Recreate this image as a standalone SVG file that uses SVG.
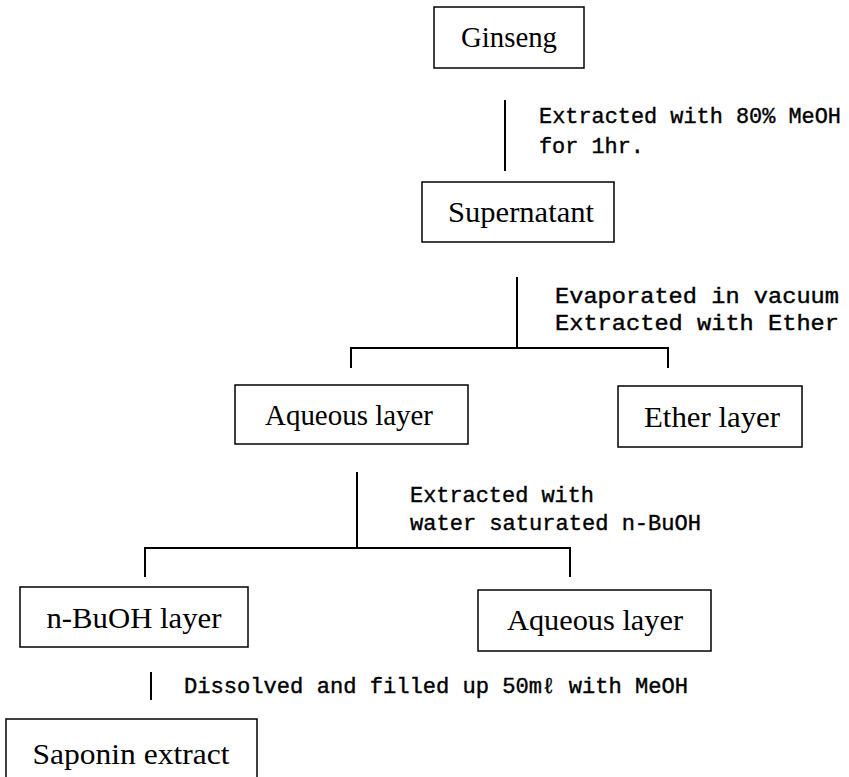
<svg xmlns="http://www.w3.org/2000/svg" width="849" height="777" viewBox="0 0 849 777">
<style>
.box{fill:#fff;stroke:#000;stroke-width:1.5}
.nt{font-family:"Liberation Serif","Times New Roman",serif;font-size:30px;fill:#000;text-anchor:middle}
.ln{fill:none;stroke:#000;stroke-width:2}
.lb{font-family:"Liberation Mono","Courier New",monospace;font-size:22px;fill:#000;stroke:#000;stroke-width:0.4}
</style>
<rect width="849" height="777" fill="#fff"/>
<g id="connectors">
<path class="ln" d="M505 100V171"/>
<path class="ln" d="M517 277V348"/>
<path class="ln" d="M351 368V348H668V368"/>
<path class="ln" d="M357 472V548"/>
<path class="ln" d="M145 577V548H570V577"/>
<path class="ln" d="M151 672V700"/>
</g>
<g id="labels">
<text class="lb" x="539" y="123" textLength="302" lengthAdjust="spacingAndGlyphs">Extracted with 80% MeOH</text>
<text class="lb" x="539" y="153" textLength="105" lengthAdjust="spacingAndGlyphs">for 1hr.</text>
<text class="lb" x="555" y="303" textLength="284" lengthAdjust="spacingAndGlyphs">Evaporated in vacuum</text>
<text class="lb" x="555" y="330" textLength="284" lengthAdjust="spacingAndGlyphs">Extracted with Ether</text>
<text class="lb" x="410" y="502" textLength="184" lengthAdjust="spacingAndGlyphs">Extracted with</text>
<text class="lb" x="410" y="530" textLength="291" lengthAdjust="spacingAndGlyphs">water saturated n-BuOH</text>
<text class="lb" x="184" y="693" textLength="504" lengthAdjust="spacingAndGlyphs">Dissolved and filled up 50mℓ with MeOH</text>
</g>
<g id="ginseng">
<rect class="box" x="434" y="7" width="150" height="61"/>
<text class="nt" x="509" y="47" textLength="96" lengthAdjust="spacingAndGlyphs">Ginseng</text>
</g>
<g id="supernatant">
<rect class="box" x="422" y="182" width="192" height="60"/>
<text class="nt" x="521" y="222" textLength="146" lengthAdjust="spacingAndGlyphs">Supernatant</text>
</g>
<g id="aqueous1">
<rect class="box" x="235" y="385" width="233" height="59"/>
<text class="nt" x="349" y="425" textLength="168" lengthAdjust="spacingAndGlyphs">Aqueous layer</text>
</g>
<g id="ether">
<rect class="box" x="618" y="386" width="184" height="61"/>
<text class="nt" x="712" y="427" textLength="136" lengthAdjust="spacingAndGlyphs">Ether layer</text>
</g>
<g id="nbuoh">
<rect class="box" x="20" y="587" width="228" height="60"/>
<text class="nt" x="134" y="628" textLength="175" lengthAdjust="spacingAndGlyphs">n-BuOH layer</text>
</g>
<g id="aqueous2">
<rect class="box" x="478" y="590" width="233" height="61"/>
<text class="nt" x="595" y="630" textLength="176" lengthAdjust="spacingAndGlyphs">Aqueous layer</text>
</g>
<g id="saponin">
<rect class="box" x="6" y="719" width="251" height="70"/>
<text class="nt" x="131" y="764" textLength="197" lengthAdjust="spacingAndGlyphs">Saponin extract</text>
</g>
</svg>
